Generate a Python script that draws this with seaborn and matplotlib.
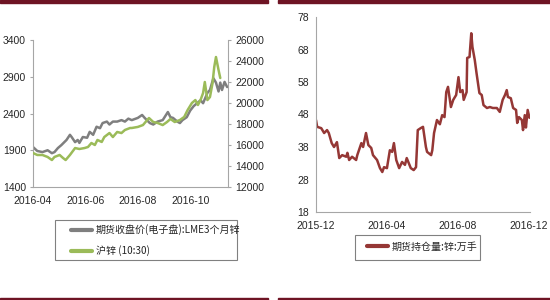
import matplotlib
matplotlib.use("Agg")
import matplotlib.pyplot as plt
import matplotlib.dates as mdates
from matplotlib.patches import Rectangle
import seaborn as sns
import pandas as pd

# ---------------- data ----------------
lme_dates = ["2016-04-01", "2016-04-06", "2016-04-12", "2016-04-18", "2016-04-23", "2016-04-26",
             "2016-04-30", "2016-05-04", "2016-05-10", "2016-05-14", "2016-05-16", "2016-05-20",
             "2016-05-23", "2016-05-25", "2016-05-29", "2016-06-03", "2016-06-06", "2016-06-10",
             "2016-06-14", "2016-06-18", "2016-06-21", "2016-06-26", "2016-06-29", "2016-07-03",
             "2016-07-08", "2016-07-13", "2016-07-17", "2016-07-21", "2016-07-25", "2016-08-01",
             "2016-08-06", "2016-08-09", "2016-08-15", "2016-08-19", "2016-08-24", "2016-08-30",
             "2016-09-05", "2016-09-08", "2016-09-11", "2016-09-16", "2016-09-19", "2016-09-22",
             "2016-09-27", "2016-10-01", "2016-10-05", "2016-10-09", "2016-10-13", "2016-10-16",
             "2016-10-21", "2016-10-24", "2016-10-28", "2016-10-31", "2016-11-03", "2016-11-05",
             "2016-11-07", "2016-11-10", "2016-11-13"]
lme_values = [1944, 1890, 1875, 1900, 1860, 1875,
              1930, 1970, 2040, 2110, 2080, 2010,
              2040, 2000, 2080, 2070, 2150, 2110,
              2220, 2200, 2270, 2290, 2250, 2290,
              2290, 2310, 2290, 2330, 2310, 2340,
              2380, 2340, 2270, 2250, 2290, 2310,
              2420, 2350, 2340, 2290, 2270, 2310,
              2350, 2440, 2500, 2540, 2580, 2540,
              2680, 2720, 2880, 2820, 2700, 2820,
              2720, 2830, 2760]

shfe_dates = ["2016-04-01", "2016-04-06", "2016-04-12", "2016-04-18", "2016-04-23", "2016-04-26",
              "2016-05-02", "2016-05-06", "2016-05-09", "2016-05-14", "2016-05-20", "2016-05-25",
              "2016-05-31", "2016-06-04", "2016-06-08", "2016-06-12", "2016-06-15", "2016-06-20",
              "2016-06-23", "2016-06-29", "2016-07-03", "2016-07-08", "2016-07-13", "2016-07-17",
              "2016-07-23", "2016-07-25", "2016-08-01", "2016-08-07", "2016-08-12", "2016-08-14",
              "2016-08-19", "2016-08-24", "2016-08-30", "2016-09-04", "2016-09-08", "2016-09-13",
              "2016-09-19", "2016-09-24", "2016-09-28", "2016-10-03", "2016-10-07", "2016-10-10",
              "2016-10-13", "2016-10-16", "2016-10-18", "2016-10-21", "2016-10-24", "2016-10-27",
              "2016-10-29", "2016-10-31", "2016-11-03", "2016-11-05"]
shfe_values = [15240, 15050, 15050, 14860, 14570, 14860,
               15050, 14760, 14570, 15050, 15710, 15620,
               15710, 15810, 16190, 16000, 16480, 16290,
               16760, 17140, 16760, 17240, 17140, 17430,
               17620, 17620, 17720, 17900, 18380, 18570,
               18190, 18100, 17900, 18190, 18480, 18190,
               18380, 18670, 19330, 20000, 20280, 19810,
               20280, 20950, 22000, 20280, 20570, 21900,
               23430, 24380, 23140, 22380]

oi_dates = ["2015-12-01", "2015-12-03", "2015-12-10", "2015-12-15", "2015-12-20", "2015-12-23",
            "2015-12-28", "2016-01-01", "2016-01-06", "2016-01-10", "2016-01-15", "2016-01-22",
            "2016-01-24", "2016-01-27", "2016-02-01", "2016-02-08", "2016-02-10", "2016-02-17",
            "2016-02-20", "2016-02-25", "2016-02-29", "2016-03-05", "2016-03-08", "2016-03-15",
            "2016-03-20", "2016-03-24", "2016-03-27", "2016-04-01", "2016-04-06", "2016-04-10",
            "2016-04-13", "2016-04-17", "2016-04-22", "2016-04-27", "2016-05-02", "2016-05-05",
            "2016-05-12", "2016-05-17", "2016-05-21", "2016-05-24", "2016-05-29", "2016-06-02",
            "2016-06-07", "2016-06-09", "2016-06-16", "2016-06-18", "2016-06-21", "2016-06-26",
            "2016-07-01", "2016-07-05", "2016-07-09", "2016-07-12", "2016-07-15", "2016-07-20",
            "2016-07-24", "2016-07-29", "2016-08-02", "2016-08-05", "2016-08-09", "2016-08-11",
            "2016-08-16", "2016-08-17", "2016-08-21", "2016-08-24", "2016-08-26", "2016-08-30",
            "2016-09-02", "2016-09-07", "2016-09-11", "2016-09-14", "2016-09-20", "2016-09-25",
            "2016-09-30", "2016-10-07", "2016-10-12", "2016-10-17", "2016-10-21", "2016-10-24",
            "2016-10-26", "2016-10-31", "2016-11-04", "2016-11-09", "2016-11-11", "2016-11-14",
            "2016-11-19", "2016-11-21", "2016-11-24", "2016-11-26", "2016-11-29", "2016-12-02"]
oi_values = [46.3, 44.2, 43.8, 42.3, 43.2, 42.3,
             39.2, 38.0, 39.5, 34.6, 35.5, 35.0,
             36.2, 34.0, 35.0, 34.0, 35.5, 39.2,
             38.0, 42.3, 38.6, 37.7, 35.5, 34.0,
             31.5, 30.3, 31.8, 31.5, 37.0, 36.5,
             39.2, 34.0, 31.5, 33.4, 32.5, 34.6,
             31.5, 30.9, 31.8, 43.2, 43.8, 44.2,
             38.0, 36.5, 35.5, 37.0, 42.3, 46.3,
             45.0, 47.8, 47.2, 54.9, 56.5, 50.3,
             52.5, 54.0, 59.5, 54.9, 55.5, 52.5,
             54.9, 65.4, 65.7, 73.0, 68.8, 64.8,
             60.8, 54.6, 54.0, 50.9, 50.0, 50.3,
             50.0, 50.0, 48.8, 52.5, 54.0, 55.5,
             53.4, 53.0, 50.0, 49.4, 45.4, 47.2,
             46.3, 43.2, 47.8, 44.0, 49.4, 47.0]

lme_label = "期货收盘价(电子盘):LME3个月锌"
shfe_label = "沪锌 (10:30)"
oi_label = "期货持仓量:锌:万手"

left_yticks = [1400, 1900, 2400, 2900, 3400]
right_yticks = [12000, 14000, 16000, 18000, 20000, 22000, 24000, 26000]
oi_yticks = [18, 28, 38, 48, 58, 68, 78]

# ---------------- style ----------------
sns.set_theme(style="white")
plt.rcParams["font.family"] = ["Liberation Sans Narrow", "Liberation Sans", "DejaVu Sans"]
plt.rcParams["axes.unicode_minus"] = False

GRAY = "#7f7f7f"
GREEN = "#9bbb59"
RED = "#953735"
SPINE = "#a6a6a6"
BAR = "#6e1424"
TXT = "#262626"
CJK = ["Noto Sans CJK SC", "DejaVu Sans"]
W, H = 550.0, 300.0

fig = plt.figure(figsize=(5.5, 3.0), dpi=100)
fig.patch.set_facecolor("white")


def px_rect(x0, y0, x1, y1, **kw):
    """Rectangle given in pixel coords (top-left origin)."""
    r = Rectangle((x0 / W, 1 - y1 / H), (x1 - x0) / W, (y1 - y0) / H,
                  transform=fig.transFigure, **kw)
    fig.patches.append(r)
    return r


# top / bottom frame bars
for (x0, x1) in [(0, 268), (278, 550)]:
    px_rect(x0, 0, x1, 3, color=BAR, zorder=0)
    px_rect(x0, 297.5, x1, 300, color=BAR, zorder=0)


def style_axis(ax, which_spines):
    for s in ["left", "right", "top", "bottom"]:
        ax.spines[s].set_visible(s in which_spines)
        ax.spines[s].set_color(SPINE)
        ax.spines[s].set_linewidth(0.8)
    ax.tick_params(axis="both", which="both", direction="out", length=2.5, width=0.8,
                   color=SPINE, labelsize=7.5, labelcolor=TXT, pad=2.5)
    ax.set_xlabel("")
    ax.set_ylabel("")
    ax.grid(False)


def make_legend(handles, labels, hx, ytop, box):
    leg = fig.legend(handles, labels, loc="upper left",
                     bbox_to_anchor=(hx / W, 1 - ytop / H), frameon=False,
                     prop={"family": CJK, "size": 7.2}, handlelength=2.1, handletextpad=0.35,
                     labelspacing=1.0, borderpad=0, borderaxespad=0)
    for h in leg.legend_handles:
        h.set_linewidth(3)
    for t in leg.get_texts():
        t.set_color(TXT)
    px_rect(*box, facecolor="none", edgecolor="#808080", linewidth=0.8, zorder=1)
    return leg


lme = pd.DataFrame({"date": pd.to_datetime(lme_dates), "v": lme_values})
shfe = pd.DataFrame({"date": pd.to_datetime(shfe_dates), "v": shfe_values})
oi = pd.DataFrame({"date": pd.to_datetime(oi_dates), "v": oi_values})

# ---------------- left chart ----------------
ax1 = fig.add_axes([33 / W, 1 - 187 / H, (228 - 33) / W, (187 - 40) / H])
ax1b = ax1.twinx()
sns.lineplot(data=lme, x="date", y="v", ax=ax1, color=GRAY, lw=1.8, label=lme_label, legend=False)
sns.lineplot(data=shfe, x="date", y="v", ax=ax1b, color=GREEN, lw=1.8, label=shfe_label, legend=False)
ax1.set_ylim(1400, 3400)
ax1.set_yticks(left_yticks)
ax1b.set_ylim(12000, 26000)
ax1b.set_yticks(right_yticks)
ax1.set_xlim(pd.Timestamp("2016-04-01"), pd.Timestamp("2016-11-14"))
ax1.xaxis.set_major_locator(mdates.MonthLocator(bymonth=[4, 6, 8, 10]))
ax1.xaxis.set_major_formatter(mdates.DateFormatter("%Y-%m"))
style_axis(ax1, ["left", "bottom"])
style_axis(ax1b, ["right"])
ax1.tick_params(axis="x", pad=4)
ax1b.set_zorder(ax1.get_zorder() + 1)

make_legend([ax1.get_lines()[0], ax1b.get_lines()[0]], [lme_label, shfe_label],
            hx=71, ytop=224.5, box=(55, 220, 237, 260))

# ---------------- right chart ----------------
ax2 = fig.add_axes([316 / W, 1 - 212 / H, (530 - 316) / W, (212 - 17) / H])
sns.lineplot(data=oi, x="date", y="v", ax=ax2, color=RED, lw=1.8, label=oi_label, legend=False)
ax2.set_ylim(18, 78)
ax2.set_yticks(oi_yticks)
ax2.set_xlim(pd.Timestamp("2015-12-01"), pd.Timestamp("2016-12-03"))
ax2.xaxis.set_major_locator(mdates.MonthLocator(bymonth=[4, 8, 12]))
ax2.xaxis.set_major_formatter(mdates.DateFormatter("%Y-%m"))
style_axis(ax2, ["left", "bottom"])
ax2.tick_params(axis="x", pad=4)

make_legend([ax2.get_lines()[0]], [oi_label], hx=367, ytop=241.5, box=(355, 235, 480, 260))

fig.savefig("out.png", dpi=100, facecolor="white")
